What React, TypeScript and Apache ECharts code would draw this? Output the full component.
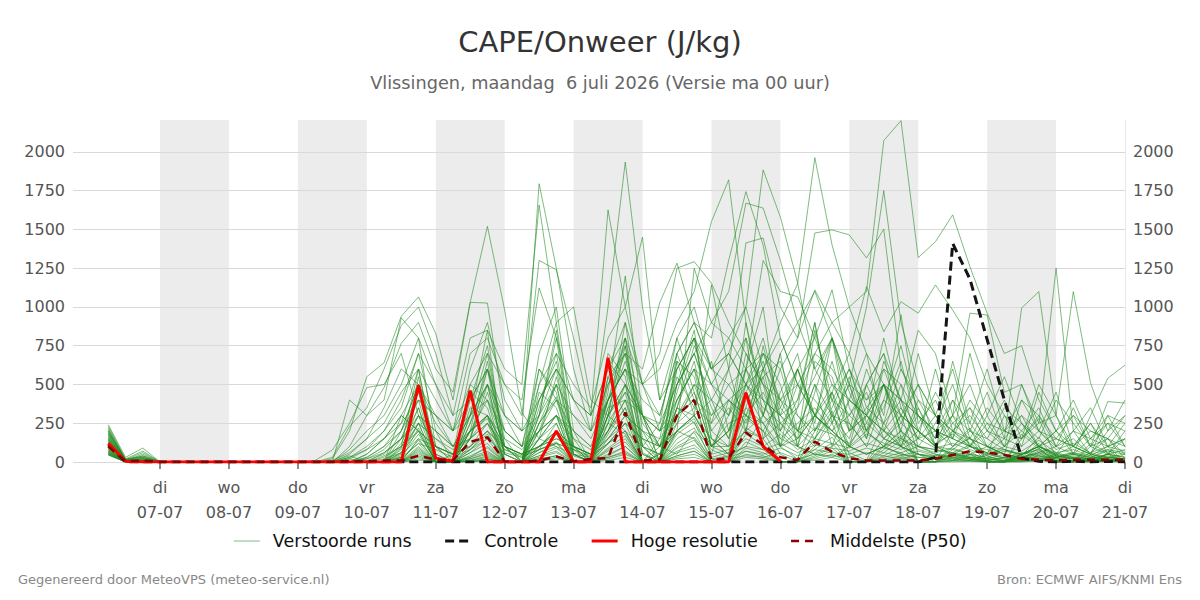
import React, { useEffect, useRef } from 'react';
import * as echarts from 'echarts';

const TITLE = 'CAPE/Onweer (J/kg)';
const SUBTITLE = 'Vlissingen, maandag  6 juli 2026 (Versie ma 00 uur)';
const FOOTER_LEFT = 'Gegenereerd door MeteoVPS (meteo-service.nl)';
const FOOTER_RIGHT = 'Bron: ECMWF AIFS/KNMI Ens';
const LEGEND_NAMES = ['Verstoorde runs', 'Controle', 'Hoge resolutie', 'Middelste (P50)'];

// x axis: hours relative to di 07-07 00 uur
const DAY_NAMES = ['di', 'wo', 'do', 'vr', 'za', 'zo', 'ma', 'di', 'wo', 'do', 'vr', 'za', 'zo', 'ma', 'di'];
const DAY_DATES = ['07-07', '08-07', '09-07', '10-07', '11-07', '12-07', '13-07', '14-07', '15-07', '16-07', '17-07', '18-07', '19-07', '20-07', '21-07'];
const START_HOUR = -18; // first run time: ma 06-07 06 uur
const STEP_HOURS = 6;
const X_MIN = -30.3;
const X_MAX = 336;
const Y_MAX = 2206;
const Y_STEP = 250;

// CAPE (J/kg), one value per 6 hours
const HRES = [120, 5, 0, 0, 0, 0, 0, 0, 0, 0, 0, 0, 0, 0, 0, 0, 0, 0, 495, 25, 5, 460, 0, 0, 0, 0, 200, 0, 0, 672, 0, 0, 0, 0, 0, 0, 0, 447, 100, 5];
const CONTROL = [110, 0, 0, 0, 0, 0, 0, 0, 0, 0, 0, 0, 0, 0, 0, 0, 0, 0, 0, 0, 0, 0, 0, 0, 0, 0, 0, 0, 0, 0, 0, 0, 0, 0, 0, 0, 0, 0, 0, 0, 0, 0, 0, 0, 0, 0, 0, 0, 30, 1410, 1180, 790, 400, 25, 5, 0, 5, 0, 5, 0];
const P50 = [100, 5, 10, 0, 0, 0, 0, 0, 0, 0, 0, 0, 0, 0, 5, 5, 10, 10, 40, 15, 10, 130, 160, 5, 0, 10, 35, 5, 20, 25, 320, 10, 15, 300, 400, 13, 25, 190, 110, 30, 13, 131, 66, 24, 10, 10, 10, 10, 20, 45, 70, 62, 45, 20, 15, 10, 15, 15, 15, 15];

const RUN_01 = [180, 10, 20, 0, 0, 0, 0, 0, 0, 0, 0, 0, 0, 0, 30, 80, 150, 300, 200, 0, 50, 200, 300, 100, 50, 200, 300, 100, 50, 400, 600, 300, 200, 500, 700, 400, 600, 800, 500, 300, 400, 700, 900, 1000, 1100, 2073, 2202, 1318, 1421, 1594, 1260, 960, 700, 750, 400, 200, 100, 50, 80, 60];
const RUN_02 = [100, 0, 10, 0, 0, 0, 0, 0, 0, 0, 0, 0, 0, 0, 100, 300, 480, 765, 900, 600, 450, 1030, 1520, 980, 320, 150, 100, 50, 30, 200, 500, 300, 100, 50, 200, 100, 50, 100, 300, 200, 100, 50, 30, 100, 200, 100, 50, 30, 20, 10, 5, 0, 0, 30, 50, 20, 10, 0, 10, 20];
const RUN_03 = [150, 5, 20, 0, 0, 0, 0, 0, 0, 0, 0, 0, 0, 20, 200, 550, 640, 940, 1065, 830, 400, 1030, 1025, 300, 100, 600, 400, 200, 100, 200, 400, 100, 50, 200, 300, 100, 200, 600, 400, 100, 200, 500, 300, 100, 50, 100, 300, 200, 100, 50, 20, 0, 10, 50, 100, 50, 20, 10, 50, 30];
const RUN_04 = [240, 30, 90, 0, 0, 0, 0, 0, 0, 0, 0, 0, 10, 77, 250, 480, 500, 700, 300, 100, 50, 600, 900, 400, 200, 1795, 1250, 600, 200, 400, 800, 300, 100, 400, 600, 300, 400, 300, 200, 100, 150, 300, 200, 100, 50, 100, 150, 80, 50, 20, 10, 5, 0, 20, 30, 10, 5, 0, 10, 20];
const RUN_05 = [220, 15, 60, 0, 0, 0, 0, 0, 0, 0, 0, 0, 0, 30, 230, 350, 600, 880, 1000, 700, 300, 800, 850, 600, 500, 1658, 900, 1000, 400, 300, 200, 100, 50, 200, 300, 150, 100, 200, 300, 150, 100, 50, 100, 200, 300, 150, 100, 50, 30, 50, 100, 60, 20, 10, 5, 30, 50, 20, 10, 5];
const RUN_06 = [200, 10, 40, 0, 0, 0, 0, 0, 0, 0, 0, 0, 0, 0, 400, 300, 400, 930, 800, 500, 200, 700, 800, 500, 300, 1300, 1240, 800, 300, 600, 900, 500, 300, 700, 900, 600, 500, 300, 200, 400, 600, 300, 200, 100, 300, 500, 200, 100, 80, 50, 30, 20, 10, 5, 20, 40, 20, 10, 30, 50];
const RUN_07 = [190, 20, 30, 0, 0, 0, 0, 0, 0, 0, 0, 0, 0, 10, 60, 150, 350, 600, 500, 300, 200, 500, 700, 500, 400, 1123, 800, 400, 300, 1626, 1000, 500, 200, 300, 500, 400, 300, 500, 700, 400, 200, 100, 300, 500, 200, 100, 50, 30, 20, 10, 50, 100, 50, 20, 10, 5, 30, 20, 10, 5];
const RUN_08 = [170, 5, 20, 0, 0, 0, 0, 0, 0, 0, 0, 0, 0, 0, 30, 100, 200, 400, 700, 500, 300, 400, 600, 300, 200, 300, 500, 300, 200, 1000, 1935, 1000, 400, 800, 1000, 600, 800, 1000, 600, 400, 500, 300, 200, 100, 50, 100, 200, 100, 50, 30, 20, 10, 5, 50, 100, 40, 20, 10, 5, 0];
const RUN_09 = [160, 10, 10, 0, 0, 0, 0, 0, 0, 0, 0, 0, 0, 0, 0, 50, 150, 300, 500, 250, 100, 300, 500, 200, 100, 500, 700, 500, 350, 800, 1000, 1450, 400, 600, 800, 500, 400, 300, 600, 800, 500, 300, 200, 400, 300, 200, 100, 50, 30, 20, 10, 50, 80, 40, 20, 10, 5, 0, 10, 20];
const RUN_10 = [140, 5, 5, 0, 0, 0, 0, 0, 0, 0, 0, 0, 0, 0, 0, 20, 80, 200, 400, 300, 100, 200, 400, 200, 100, 300, 600, 400, 200, 500, 700, 600, 1028, 1283, 900, 600, 700, 500, 400, 300, 600, 800, 500, 300, 200, 400, 300, 200, 100, 200, 300, 150, 80, 50, 100, 60, 30, 20, 50, 80];
const RUN_11 = [130, 5, 0, 0, 0, 0, 0, 0, 0, 0, 0, 0, 0, 0, 0, 0, 60, 150, 300, 200, 100, 150, 300, 150, 80, 200, 400, 300, 150, 400, 600, 500, 700, 1250, 1292, 1154, 900, 700, 500, 400, 300, 200, 400, 600, 300, 200, 150, 100, 80, 60, 40, 20, 10, 30, 60, 30, 20, 10, 5, 10];
const RUN_12 = [120, 0, 0, 0, 0, 0, 0, 0, 0, 0, 0, 0, 0, 0, 0, 30, 100, 250, 600, 400, 200, 300, 500, 300, 200, 400, 600, 400, 300, 600, 800, 500, 600, 900, 1100, 1550, 1820, 900, 400, 300, 200, 300, 500, 400, 300, 200, 100, 50, 40, 30, 20, 10, 30, 60, 40, 20, 10, 5, 0, 5];
const RUN_13 = [110, 10, 20, 0, 0, 0, 0, 0, 0, 0, 0, 0, 0, 0, 0, 10, 50, 150, 400, 300, 200, 400, 600, 200, 100, 200, 300, 200, 100, 400, 600, 400, 300, 700, 900, 800, 1300, 1744, 1400, 800, 500, 700, 600, 400, 300, 500, 400, 300, 200, 100, 150, 100, 50, 30, 60, 100, 50, 30, 20, 10];
const RUN_14 = [100, 5, 10, 0, 0, 0, 0, 0, 0, 0, 0, 0, 0, 0, 0, 0, 30, 100, 300, 200, 100, 300, 400, 100, 50, 100, 200, 100, 50, 300, 500, 300, 200, 600, 800, 600, 700, 1000, 1884, 1580, 1157, 600, 400, 300, 500, 700, 400, 200, 100, 50, 30, 20, 10, 50, 80, 40, 20, 10, 30, 20];
const RUN_15 = [90, 0, 10, 0, 0, 0, 0, 0, 0, 0, 0, 0, 0, 0, 0, 0, 0, 80, 250, 150, 50, 200, 300, 100, 50, 150, 300, 150, 80, 250, 450, 300, 250, 500, 700, 900, 1100, 1670, 1638, 1300, 900, 1100, 800, 500, 400, 600, 500, 300, 200, 300, 200, 100, 50, 20, 10, 30, 50, 30, 20, 10];
const RUN_16 = [80, 5, 0, 0, 0, 0, 0, 0, 0, 0, 0, 0, 0, 0, 0, 0, 20, 60, 200, 100, 50, 150, 250, 80, 30, 100, 200, 100, 50, 200, 400, 300, 200, 400, 600, 500, 700, 500, 600, 900, 1150, 1963, 1400, 1000, 700, 500, 300, 200, 100, 80, 50, 30, 20, 10, 5, 30, 60, 40, 20, 10];
const RUN_17 = [70, 10, 5, 0, 0, 0, 0, 0, 0, 0, 0, 0, 0, 0, 0, 0, 0, 50, 150, 100, 50, 100, 200, 100, 50, 100, 150, 100, 50, 150, 300, 200, 150, 300, 400, 300, 500, 600, 700, 600, 800, 1477, 1497, 1465, 1316, 1503, 600, 400, 300, 200, 150, 100, 80, 50, 100, 150, 100, 50, 30, 20];
const RUN_18 = [60, 0, 0, 0, 0, 0, 0, 0, 0, 0, 0, 0, 0, 0, 0, 0, 0, 30, 120, 80, 30, 80, 150, 60, 30, 80, 120, 80, 30, 120, 250, 150, 100, 250, 350, 250, 400, 500, 300, 700, 900, 600, 800, 500, 1000, 1750, 900, 500, 300, 200, 100, 50, 30, 20, 10, 50, 100, 50, 30, 10];
const RUN_19 = [210, 15, 40, 0, 0, 0, 0, 0, 0, 0, 0, 0, 0, 0, 80, 200, 300, 500, 800, 100, 0, 300, 700, 100, 0, 400, 650, 50, 0, 300, 900, 200, 0, 500, 850, 150, 50, 600, 300, 700, 100, 450, 800, 200, 600, 300, 950, 250, 400, 150, 700, 300, 100, 500, 250, 1250, 200, 50, 300, 250];
const RUN_20 = [185, 10, 25, 0, 0, 0, 0, 0, 0, 0, 0, 0, 0, 0, 50, 150, 250, 450, 600, 50, 0, 250, 500, 50, 0, 350, 700, 100, 0, 500, 750, 100, 0, 650, 300, 400, 150, 700, 500, 100, 600, 250, 800, 350, 150, 500, 200, 700, 300, 600, 200, 450, 150, 993, 1099, 300, 100, 250, 50, 150];
const RUN_21 = [165, 5, 10, 0, 0, 0, 0, 0, 0, 0, 0, 0, 0, 0, 20, 80, 200, 350, 700, 200, 0, 200, 650, 50, 0, 300, 850, 80, 0, 700, 550, 0, 50, 450, 800, 250, 600, 200, 750, 300, 150, 850, 400, 100, 500, 700, 150, 300, 100, 400, 250, 600, 200, 150, 500, 300, 1099, 510, 200, 400];
const RUN_22 = [150, 10, 0, 0, 0, 0, 0, 0, 0, 0, 0, 0, 0, 0, 0, 50, 150, 250, 400, 0, 0, 150, 600, 150, 0, 250, 500, 50, 0, 350, 650, 300, 0, 350, 750, 500, 300, 800, 150, 450, 700, 200, 350, 600, 250, 500, 100, 350, 150, 300, 100, 200, 400, 150, 250, 300, 50, 300, 540, 625];
const RUN_23 = [140, 5, 5, 0, 0, 0, 0, 0, 0, 0, 0, 0, 0, 0, 0, 30, 100, 200, 500, 100, 0, 150, 450, 100, 0, 150, 550, 150, 0, 400, 700, 250, 100, 550, 350, 650, 200, 450, 650, 250, 350, 900, 250, 500, 150, 650, 400, 850, 700, 300, 960, 948, 450, 500, 200, 100, 350, 100, 390, 380];
const RUN_24 = [130, 10, 30, 0, 0, 0, 0, 0, 0, 0, 0, 0, 0, 0, 0, 20, 60, 150, 250, 150, 80, 150, 250, 100, 50, 100, 150, 100, 50, 150, 300, 200, 100, 200, 300, 1142, 600, 1413, 1445, 1000, 800, 1110, 900, 700, 1131, 840, 1034, 960, 1142, 980, 800, 500, 300, 200, 100, 50, 30, 20, 10, 5];
const RUN_25 = [120, 5, 10, 0, 0, 0, 0, 0, 0, 0, 0, 0, 0, 0, 0, 0, 40, 100, 200, 100, 50, 100, 200, 80, 40, 80, 120, 80, 40, 120, 250, 150, 100, 200, 1250, 900, 800, 600, 1300, 1100, 1066, 800, 1110, 600, 400, 500, 400, 300, 200, 150, 100, 80, 50, 30, 20, 10, 5, 0, 5, 10];
const RUN_26 = [230, 20, 70, 0, 0, 0, 0, 0, 0, 0, 0, 0, 0, 5, 40, 0, 0, 120, 350, 30, 0, 200, 300, 0, 0, 250, 420, 40, 0, 300, 500, 60, 0, 350, 250, 80, 30, 400, 550, 100, 20, 300, 180, 60, 10, 250, 400, 50, 0, 200, 120, 40, 0, 150, 280, 30, 0, 100, 150, 20];
const RUN_27 = [195, 10, 35, 0, 0, 0, 0, 0, 0, 0, 0, 0, 0, 0, 20, 0, 0, 60, 250, 0, 0, 80, 180, 0, 0, 150, 300, 0, 0, 250, 180, 0, 0, 300, 400, 20, 0, 350, 250, 50, 0, 200, 450, 40, 0, 150, 300, 0, 0, 100, 220, 0, 0, 180, 90, 0, 0, 60, 100, 0];
const RUN_28 = [175, 5, 15, 0, 0, 0, 0, 0, 0, 0, 0, 0, 0, 0, 0, 0, 0, 30, 180, 10, 0, 60, 120, 0, 0, 100, 200, 0, 0, 180, 350, 0, 0, 200, 150, 0, 0, 280, 200, 0, 0, 150, 330, 0, 0, 100, 200, 0, 0, 80, 160, 0, 0, 50, 80, 0, 0, 120, 60, 0];
const RUN_29 = [155, 0, 5, 0, 0, 0, 0, 0, 0, 0, 0, 0, 0, 0, 0, 0, 0, 20, 220, 0, 0, 40, 90, 0, 0, 80, 250, 0, 0, 120, 200, 0, 0, 180, 260, 0, 0, 220, 150, 0, 0, 100, 250, 0, 0, 80, 170, 0, 0, 60, 110, 0, 0, 40, 160, 0, 0, 30, 80, 0];
const RUN_30 = [145, 5, 10, 0, 0, 0, 0, 0, 0, 0, 0, 0, 0, 0, 0, 0, 0, 10, 140, 0, 0, 30, 70, 0, 0, 60, 120, 0, 0, 90, 170, 0, 0, 120, 190, 0, 0, 180, 110, 0, 0, 80, 160, 0, 0, 60, 140, 0, 0, 40, 70, 0, 0, 30, 120, 0, 0, 20, 50, 0];
const RUN_31 = [135, 0, 0, 0, 0, 0, 0, 0, 0, 0, 0, 0, 0, 0, 0, 0, 0, 5, 100, 0, 0, 20, 50, 0, 0, 40, 90, 0, 0, 70, 130, 0, 0, 90, 140, 0, 0, 130, 80, 0, 0, 60, 120, 0, 0, 40, 100, 0, 0, 30, 50, 0, 0, 20, 90, 0, 0, 10, 40, 0];
const RUN_32 = [125, 5, 0, 0, 0, 0, 0, 0, 0, 0, 0, 0, 0, 0, 0, 0, 0, 0, 80, 0, 0, 10, 30, 0, 0, 30, 60, 0, 0, 40, 100, 0, 0, 60, 90, 0, 0, 90, 60, 0, 0, 40, 90, 0, 0, 30, 60, 0, 0, 20, 30, 0, 0, 10, 60, 0, 0, 5, 20, 0];
const RUN_33 = [115, 0, 5, 0, 0, 0, 0, 0, 0, 0, 0, 0, 0, 0, 0, 0, 0, 0, 60, 0, 0, 5, 20, 0, 0, 20, 40, 0, 0, 30, 70, 0, 0, 40, 70, 0, 0, 70, 40, 0, 0, 30, 70, 0, 0, 20, 40, 0, 0, 10, 20, 0, 0, 5, 40, 0, 0, 5, 10, 0];
const RUN_34 = [105, 0, 0, 0, 0, 0, 0, 0, 0, 0, 0, 0, 0, 0, 0, 0, 0, 0, 40, 0, 0, 0, 15, 0, 0, 10, 30, 0, 0, 20, 50, 0, 0, 30, 50, 0, 0, 50, 30, 0, 0, 20, 50, 0, 0, 10, 30, 0, 0, 5, 10, 0, 0, 0, 20, 0, 0, 0, 5, 0];
const RUN_35 = [95, 5, 0, 0, 0, 0, 0, 0, 0, 0, 0, 0, 0, 0, 0, 0, 0, 0, 20, 0, 0, 0, 5, 0, 0, 5, 20, 0, 0, 10, 30, 0, 0, 20, 30, 0, 0, 30, 20, 0, 0, 10, 30, 0, 0, 5, 20, 0, 0, 0, 5, 0, 0, 0, 10, 0, 0, 0, 0, 0];
const RUN_36 = [88, 0, 5, 0, 0, 0, 0, 0, 0, 0, 0, 0, 0, 0, 0, 0, 0, 100, 600, 0, 0, 300, 850, 0, 0, 500, 900, 100, 0, 450, 1200, 300, 0, 600, 800, 200, 100, 900, 300, 600, 200, 500, 100, 400, 700, 200, 500, 100, 250, 500, 150, 50, 300, 100, 450, 200, 50, 150, 300, 100];
const RUN_37 = [82, 0, 0, 0, 0, 0, 0, 0, 0, 0, 0, 0, 0, 0, 0, 0, 0, 200, 500, 50, 0, 400, 750, 100, 0, 700, 1000, 200, 0, 300, 800, 100, 250, 800, 450, 100, 300, 600, 1000, 200, 400, 900, 300, 150, 500, 250, 600, 350, 100, 300, 500, 200, 100, 250, 150, 400, 250, 100, 50, 200];
const RUN_38 = [78, 5, 0, 0, 0, 0, 0, 0, 0, 0, 0, 0, 0, 0, 0, 0, 0, 150, 450, 0, 0, 250, 600, 0, 0, 400, 600, 0, 0, 550, 700, 50, 0, 400, 600, 100, 200, 350, 700, 500, 100, 650, 550, 200, 300, 800, 350, 150, 600, 200, 350, 100, 50, 400, 200, 150, 300, 200, 150, 50];
const RUN_39 = [72, 0, 0, 0, 0, 0, 0, 0, 0, 0, 0, 0, 0, 0, 0, 0, 0, 90, 350, 0, 0, 500, 400, 0, 0, 300, 800, 50, 0, 650, 500, 0, 100, 350, 650, 150, 50, 500, 800, 350, 600, 300, 650, 250, 100, 400, 750, 300, 150, 650, 250, 100, 200, 300, 100, 50, 200, 350, 100, 150];
const RUN_40 = [68, 0, 0, 0, 0, 0, 0, 0, 0, 0, 0, 0, 0, 0, 0, 0, 0, 60, 300, 0, 0, 350, 300, 0, 0, 200, 500, 0, 0, 400, 600, 100, 0, 500, 700, 350, 150, 450, 250, 100, 350, 550, 800, 450, 200, 600, 300, 500, 300, 150, 400, 250, 100, 200, 350, 100, 150, 50, 200, 300];
const RUN_41 = [65, 5, 0, 0, 0, 0, 0, 0, 0, 0, 0, 0, 0, 0, 0, 0, 0, 40, 250, 0, 0, 150, 500, 50, 0, 600, 450, 0, 0, 250, 750, 150, 0, 700, 400, 50, 400, 250, 550, 650, 300, 150, 450, 700, 350, 250, 100, 400, 200, 400, 100, 300, 550, 250, 100, 200, 400, 150, 250, 100];
const RUN_42 = [62, 0, 0, 0, 0, 0, 0, 0, 0, 0, 0, 0, 0, 0, 0, 0, 0, 300, 200, 0, 0, 450, 350, 0, 0, 250, 400, 50, 0, 550, 300, 0, 150, 650, 550, 100, 250, 300, 450, 200, 500, 400, 250, 550, 200, 350, 650, 200, 450, 250, 150, 350, 200, 400, 300, 150, 100, 250, 100, 150];
const RUN_43 = [58, 0, 0, 0, 0, 0, 0, 0, 0, 0, 0, 0, 0, 0, 0, 0, 0, 0, 150, 0, 0, 200, 280, 0, 0, 450, 350, 0, 0, 300, 450, 0, 0, 250, 500, 200, 350, 200, 600, 150, 250, 350, 200, 300, 450, 150, 250, 500, 100, 250, 350, 200, 150, 300, 200, 450, 100, 200, 150, 300];
const RUN_44 = [55, 0, 0, 0, 0, 0, 0, 0, 0, 0, 0, 0, 0, 0, 0, 0, 0, 30, 550, 0, 0, 100, 250, 0, 0, 200, 300, 0, 0, 350, 400, 0, 50, 300, 450, 100, 200, 500, 350, 250, 150, 300, 450, 200, 350, 500, 250, 150, 300, 100, 200, 150, 350, 250, 100, 200, 300, 100, 250, 200];
const RUN_45 = [52, 0, 0, 0, 0, 0, 0, 0, 0, 0, 0, 0, 0, 0, 0, 0, 0, 20, 120, 0, 0, 80, 200, 0, 0, 150, 250, 0, 0, 200, 350, 50, 0, 350, 300, 100, 100, 300, 250, 350, 200, 150, 300, 250, 100, 200, 350, 150, 200, 150, 100, 250, 200, 150, 300, 100, 200, 150, 100, 250];
const RUN_46 = [50, 0, 0, 0, 0, 0, 0, 0, 0, 0, 0, 0, 0, 0, 0, 0, 0, 0, 90, 0, 0, 60, 150, 0, 0, 100, 180, 0, 0, 150, 250, 0, 0, 200, 280, 50, 80, 200, 150, 250, 100, 220, 180, 120, 250, 150, 100, 200, 120, 180, 100, 60, 150, 100, 200, 80, 120, 60, 150, 100];
const RUN_47 = [48, 0, 0, 0, 0, 0, 0, 0, 0, 0, 0, 0, 0, 0, 0, 0, 0, 0, 70, 0, 0, 30, 100, 0, 0, 80, 130, 0, 0, 120, 200, 0, 0, 150, 220, 30, 60, 150, 100, 180, 80, 150, 120, 90, 180, 120, 80, 150, 90, 120, 80, 40, 100, 70, 140, 60, 80, 40, 100, 70];
const RUN_48 = [46, 0, 0, 0, 0, 0, 0, 0, 0, 0, 0, 0, 0, 0, 0, 0, 0, 0, 50, 0, 0, 20, 60, 0, 0, 60, 100, 0, 0, 80, 150, 0, 0, 100, 160, 20, 40, 100, 80, 120, 60, 110, 90, 70, 120, 90, 60, 100, 60, 90, 50, 30, 70, 50, 100, 40, 60, 30, 70, 50];
const RUN_49 = [45, 0, 0, 0, 0, 0, 0, 0, 0, 0, 0, 0, 0, 0, 0, 0, 0, 0, 30, 0, 0, 10, 40, 0, 0, 40, 70, 0, 0, 50, 100, 0, 0, 70, 110, 10, 30, 70, 50, 90, 40, 80, 60, 50, 90, 60, 40, 70, 40, 60, 30, 20, 50, 30, 70, 30, 40, 20, 50, 30];
const RUN_50 = [205, 10, 50, 0, 0, 0, 0, 0, 0, 0, 0, 0, 0, 0, 0, 0, 0, 0, 10, 0, 0, 0, 20, 0, 0, 20, 40, 0, 0, 30, 60, 0, 0, 40, 70, 0, 20, 40, 30, 60, 20, 50, 40, 30, 60, 40, 20, 50, 20, 40, 20, 10, 30, 20, 40, 20, 30, 10, 30, 20];

const RUNS = [
  RUN_01, RUN_02, RUN_03, RUN_04, RUN_05, RUN_06, RUN_07, RUN_08, RUN_09, RUN_10,
  RUN_11, RUN_12, RUN_13, RUN_14, RUN_15, RUN_16, RUN_17, RUN_18, RUN_19, RUN_20,
  RUN_21, RUN_22, RUN_23, RUN_24, RUN_25, RUN_26, RUN_27, RUN_28, RUN_29, RUN_30,
  RUN_31, RUN_32, RUN_33, RUN_34, RUN_35, RUN_36, RUN_37, RUN_38, RUN_39, RUN_40,
  RUN_41, RUN_42, RUN_43, RUN_44, RUN_45, RUN_46, RUN_47, RUN_48, RUN_49, RUN_50,
];

const FONT = '"DejaVu Sans", sans-serif';
const GREEN = 'rgba(34,139,34,0.58)';

function pairs(vals: number[]) {
  return vals.map((v, i) => [START_HOUR + STEP_HOURS * i, v]);
}

function buildOption() {
  const dayTicks = DAY_DATES.map((_, d) => d * 24);
  const bands = DAY_DATES.map((_, d) => d)
    .filter((d) => d % 2 === 0 && d < DAY_DATES.length - 1)
    .map((d) => [{ xAxis: d * 24 }, { xAxis: (d + 1) * 24 }]);

  const series: any[] = [];
  series.push({
    type: 'line',
    name: '__bands',
    data: [],
    silent: true,
    symbol: 'none',
    markArea: { silent: true, itemStyle: { color: '#ececec' }, data: bands },
  });
  RUNS.forEach((run) => {
    series.push({
      type: 'line',
      name: 'Verstoorde runs',
      data: pairs(run),
      symbol: 'none',
      silent: true,
      lineStyle: { color: GREEN, width: 1 },
      itemStyle: { color: GREEN },
      z: 2,
    });
  });
  series.push({
    type: 'line', name: 'Controle', data: pairs(CONTROL), symbol: 'none', silent: true,
    lineStyle: { color: '#151515', width: 3, type: [9, 5] }, itemStyle: { color: '#151515' }, z: 3,
  });
  series.push({
    type: 'line', name: 'Hoge resolutie', data: pairs(HRES), symbol: 'none', silent: true,
    lineStyle: { color: '#ff0000', width: 3 }, itemStyle: { color: '#ff0000' }, z: 4,
  });
  series.push({
    type: 'line', name: 'Middelste (P50)', data: pairs(P50), symbol: 'none', silent: true,
    lineStyle: { color: '#8b0000', width: 2.5, type: [8, 6] }, itemStyle: { color: '#8b0000' }, z: 5,
  });

  const yLabel = {
    color: '#555', fontSize: 16, fontFamily: FONT, margin: 8, showMaxLabel: false,
    formatter: (v: number) => String(v),
  };

  return {
    animation: false,
    backgroundColor: '#ffffff',
    textStyle: { fontFamily: FONT },
    title: [
      { text: TITLE, left: 'center', top: 22, textStyle: { fontSize: 29, fontWeight: 'normal', color: '#333', fontFamily: FONT } },
      { text: SUBTITLE, left: 'center', top: 69, textStyle: { fontSize: 17.7, fontWeight: 'normal', color: '#666', fontFamily: FONT } },
    ],
    legend: {
      data: LEGEND_NAMES,
      top: 527,
      left: 'center',
      itemWidth: 26,
      itemHeight: 14,
      itemGap: 32,
      selectedMode: false,
      itemStyle: { color: 'transparent', borderColor: 'transparent', borderWidth: 0, opacity: 0 },
      lineStyle: { width: 'inherit' },
      textStyle: { fontSize: 17.5, color: '#111', fontFamily: FONT, padding: [0, 0, 0, 8] },
    },
    grid: { left: 73, right: 75, top: 120, bottom: 138, containLabel: false, outerBoundsMode: 'none' },
    xAxis: {
      type: 'value',
      min: X_MIN,
      max: X_MAX,
      axisLine: { show: false },
      axisTick: { show: true, customValues: dayTicks, length: 7, lineStyle: { color: '#666', width: 1.5 } },
      axisLabel: {
        customValues: dayTicks,
        color: '#555',
        fontSize: 16,
        fontFamily: FONT,
        lineHeight: 25,
        margin: 13,
        formatter: (v: number) => {
          const d = Math.round(v / 24);
          return DAY_NAMES[d] + '\n' + DAY_DATES[d];
        },
      },
      splitLine: { show: false },
    },
    yAxis: [
      {
        type: 'value', position: 'left', min: 0, max: Y_MAX, interval: Y_STEP, z: 1.5,
        axisLine: { show: false }, axisTick: { show: false }, axisLabel: yLabel,
        splitLine: { show: true, showMaxLine: false, lineStyle: { color: '#d9d9d9', width: 1 } },
      },
      {
        type: 'value', position: 'right', min: 0, max: Y_MAX, interval: Y_STEP, z: 1.5,
        axisLine: { show: true, lineStyle: { color: '#e8e8e8', width: 1 } }, axisTick: { show: false }, axisLabel: yLabel,
        splitLine: { show: false },
      },
    ],
    series,
    graphic: [
      { type: 'text', left: 18, top: 573, style: { text: FOOTER_LEFT, fill: '#888', font: '13px "DejaVu Sans"' } },
      { type: 'text', right: 18, top: 573, style: { text: FOOTER_RIGHT, fill: '#888', font: '13px "DejaVu Sans"' } },
    ],
  };
}

export default function App() {
  const ref = useRef<HTMLDivElement>(null);
  useEffect(() => {
    if (!ref.current) return;
    const chart = echarts.init(ref.current, null, { renderer: 'svg' });
    chart.setOption(buildOption() as any);
    return () => chart.dispose();
  }, []);
  return (
    <div
      ref={ref}
      style={{ position: 'fixed', left: 0, top: 0, width: 1200, height: 600, background: '#fff' }}
    />
  );
}
